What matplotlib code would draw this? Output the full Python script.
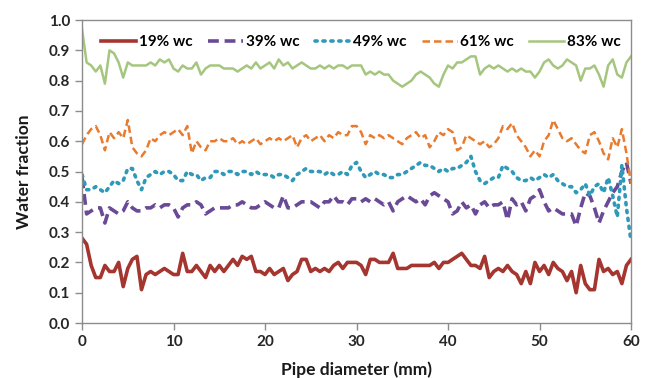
import matplotlib
matplotlib.use("Agg")
import matplotlib.pyplot as plt

plt.rcParams['font.family'] = ['Lato', 'DejaVu Sans']

# Pipe diameter positions (mm), sampling grid 0..60 every 0.5 mm
diameter = [i * 0.5 for i in range(121)]

wc19 = [0.28, 0.26, 0.19, 0.15, 0.15, 0.19, 0.17, 0.17, 0.20, 0.12,
        0.18, 0.21, 0.22, 0.11, 0.16, 0.17, 0.16, 0.17, 0.18, 0.17,
        0.16, 0.16, 0.23, 0.17, 0.17, 0.19, 0.17, 0.15, 0.19, 0.17,
        0.19, 0.17, 0.19, 0.21, 0.19, 0.22, 0.21, 0.22, 0.17, 0.17,
        0.16, 0.18, 0.16, 0.17, 0.18, 0.14, 0.16, 0.17, 0.21, 0.21,
        0.17, 0.18, 0.17, 0.18, 0.17, 0.19, 0.20, 0.18, 0.20, 0.20,
        0.20, 0.19, 0.16, 0.21, 0.21, 0.20, 0.20, 0.20, 0.23, 0.18,
        0.18, 0.18, 0.19, 0.19, 0.19, 0.19, 0.19, 0.20, 0.18, 0.20,
        0.20, 0.21, 0.22, 0.23, 0.21, 0.19, 0.19, 0.18, 0.22, 0.15,
        0.17, 0.18, 0.17, 0.19, 0.17, 0.16, 0.13, 0.17, 0.13, 0.20,
        0.17, 0.19, 0.16, 0.20, 0.18, 0.17, 0.14, 0.17, 0.10, 0.19,
        0.13, 0.11, 0.11, 0.21, 0.17, 0.18, 0.16, 0.17, 0.13, 0.19,
        0.21]

wc39 = [0.48, 0.36, 0.37, 0.38, 0.38, 0.33, 0.38, 0.37, 0.36, 0.37,
        0.40, 0.38, 0.37, 0.37, 0.38, 0.38, 0.39, 0.38, 0.39, 0.39,
        0.38, 0.35, 0.38, 0.39, 0.39, 0.40, 0.39, 0.36, 0.37, 0.38,
        0.38, 0.38, 0.38, 0.39, 0.39, 0.40, 0.39, 0.38, 0.38, 0.39,
        0.40, 0.39, 0.38, 0.38, 0.42, 0.38, 0.38, 0.39, 0.40, 0.40,
        0.40, 0.39, 0.38, 0.40, 0.40, 0.42, 0.40, 0.40, 0.39, 0.41,
        0.41, 0.40, 0.41, 0.40, 0.41, 0.40, 0.39, 0.40, 0.37, 0.40,
        0.41, 0.42, 0.41, 0.40, 0.41, 0.39, 0.42, 0.43, 0.42, 0.41,
        0.40, 0.36, 0.37, 0.40, 0.38, 0.39, 0.36, 0.39, 0.40, 0.38,
        0.39, 0.39, 0.40, 0.34, 0.41, 0.39, 0.40, 0.37, 0.41, 0.42,
        0.44, 0.40, 0.37, 0.38, 0.37, 0.36, 0.36, 0.36, 0.32, 0.38,
        0.43, 0.42, 0.38, 0.33, 0.37, 0.40, 0.43, 0.45, 0.50, 0.53,
        0.46]

wc49 = [0.49, 0.44, 0.44, 0.45, 0.44, 0.43, 0.45, 0.47, 0.46, 0.47,
        0.51, 0.51, 0.47, 0.44, 0.48, 0.49, 0.50, 0.49, 0.50, 0.50,
        0.49, 0.47, 0.47, 0.50, 0.49, 0.49, 0.47, 0.48, 0.48, 0.50,
        0.50, 0.49, 0.50, 0.50, 0.49, 0.50, 0.50, 0.49, 0.50, 0.49,
        0.49, 0.49, 0.48, 0.49, 0.49, 0.48, 0.47, 0.49, 0.50, 0.51,
        0.50, 0.50, 0.50, 0.49, 0.50, 0.49, 0.49, 0.50, 0.49, 0.52,
        0.53, 0.50, 0.48, 0.49, 0.50, 0.49, 0.49, 0.48, 0.48, 0.49,
        0.49, 0.50, 0.51, 0.52, 0.53, 0.52, 0.52, 0.51, 0.50, 0.51,
        0.50, 0.51, 0.51, 0.52, 0.53, 0.55, 0.50, 0.47, 0.46, 0.47,
        0.48, 0.48, 0.52, 0.51, 0.50, 0.48, 0.47, 0.47, 0.48, 0.47,
        0.48, 0.49, 0.48, 0.49, 0.47, 0.46, 0.45, 0.45, 0.43, 0.44,
        0.46, 0.42, 0.45, 0.46, 0.43, 0.48, 0.42, 0.35, 0.52, 0.38,
        0.27]

wc61 = [0.59, 0.62, 0.64, 0.65, 0.62, 0.57, 0.63, 0.61, 0.63, 0.61,
        0.67, 0.58, 0.56, 0.55, 0.57, 0.61, 0.60, 0.62, 0.63, 0.62,
        0.63, 0.64, 0.62, 0.65, 0.56, 0.60, 0.58, 0.57, 0.60, 0.60,
        0.61, 0.60, 0.60, 0.61, 0.59, 0.60, 0.59, 0.60, 0.61, 0.59,
        0.60, 0.61, 0.60, 0.61, 0.60, 0.61, 0.62, 0.58, 0.61, 0.62,
        0.60, 0.61, 0.62, 0.60, 0.62, 0.61, 0.63, 0.62, 0.62, 0.65,
        0.65, 0.63, 0.59, 0.62, 0.61, 0.62, 0.61, 0.62, 0.61, 0.60,
        0.59, 0.61, 0.62, 0.63, 0.61, 0.62, 0.58, 0.60, 0.63, 0.62,
        0.64, 0.63, 0.57, 0.58, 0.62, 0.61, 0.60, 0.59, 0.60, 0.58,
        0.59, 0.61, 0.65, 0.64, 0.66, 0.62, 0.60, 0.58, 0.55, 0.57,
        0.55, 0.60, 0.62, 0.67, 0.64, 0.61, 0.60, 0.61, 0.59, 0.57,
        0.56, 0.62, 0.63, 0.60, 0.56, 0.54, 0.61, 0.58, 0.64, 0.56,
        0.46]

wc83 = [0.97, 0.86, 0.85, 0.83, 0.85, 0.79, 0.90, 0.89, 0.86, 0.81,
        0.86, 0.85, 0.85, 0.85, 0.85, 0.86, 0.85, 0.87, 0.86, 0.87,
        0.84, 0.83, 0.85, 0.84, 0.84, 0.86, 0.82, 0.84, 0.85, 0.85,
        0.85, 0.84, 0.84, 0.84, 0.83, 0.84, 0.85, 0.84, 0.86, 0.84,
        0.85, 0.86, 0.84, 0.87, 0.85, 0.86, 0.84, 0.85, 0.86, 0.85,
        0.84, 0.84, 0.85, 0.84, 0.85, 0.84, 0.85, 0.85, 0.84, 0.85,
        0.85, 0.85, 0.82, 0.83, 0.82, 0.83, 0.82, 0.82, 0.80, 0.79,
        0.78, 0.79, 0.80, 0.82, 0.83, 0.82, 0.81, 0.79, 0.78, 0.82,
        0.85, 0.84, 0.86, 0.86, 0.87, 0.88, 0.88, 0.82, 0.84, 0.85,
        0.84, 0.85, 0.84, 0.83, 0.84, 0.83, 0.84, 0.83, 0.83, 0.81,
        0.83, 0.86, 0.87, 0.85, 0.84, 0.85, 0.87, 0.86, 0.85, 0.80,
        0.84, 0.84, 0.85, 0.82, 0.78, 0.85, 0.87, 0.82, 0.81, 0.86,
        0.88]

labels = ["19% wc", "39% wc", "49% wc", "61% wc", "83% wc"]
x_ticks = [0, 10, 20, 30, 40, 50, 60]
y_ticks = [0.0, 0.1, 0.2, 0.3, 0.4, 0.5, 0.6, 0.7, 0.8, 0.9, 1.0]

fig = plt.figure(figsize=(6.49, 3.78), dpi=100)
ax = fig.add_axes([0.1264, 0.1455, 0.8459, 0.8015])

ax.plot(diameter, wc19, color="#A5352F", lw=2.6, label=labels[0])
ax.plot(diameter, wc39, color="#6A4A96", lw=2.6, dashes=(3.0, 1.6), label=labels[1])
ax.plot(diameter, wc49, color="#2F9AB8", lw=2.6, dashes=(0.6, 1.6),
        dash_capstyle="round", label=labels[2])
ax.plot(diameter, wc61, color="#E97B2E", lw=1.8, dashes=(3.0, 1.6), label=labels[3])
ax.plot(diameter, wc83, color="#A5C67E", lw=1.8, label=labels[4])

ax.set_xlim(0, 60)
ax.set_ylim(0, 1.0)
ax.set_xticks(x_ticks)
ax.set_yticks(y_ticks)
ax.set_xticklabels([str(v) for v in x_ticks], fontsize=11, fontweight="bold", color="#262626")
ax.set_yticklabels([f"{v:.1f}" for v in y_ticks], fontsize=11, fontweight="bold", color="#262626")
for s in ax.spines.values():
    s.set_color("#8C8C8C")
    s.set_linewidth(1.0)
ax.tick_params(axis="both", direction="out", length=5, color="#8C8C8C", width=1.0)

ax.set_xlabel("Pipe diameter (mm)", fontsize=12.5, fontweight="bold", color="#1a1a1a", labelpad=9)
ax.set_ylabel("Water fraction", fontsize=12.5, fontweight="bold", color="#1a1a1a", labelpad=12)

leg = ax.legend(loc="upper center", bbox_to_anchor=(0.508, 1.0), ncol=5, frameon=False,
                handlelength=2.3, columnspacing=1.0, handletextpad=0.2,
                borderpad=0.5, prop={"weight": "bold", "size": 11})

fig.savefig("out.png", dpi=100)
